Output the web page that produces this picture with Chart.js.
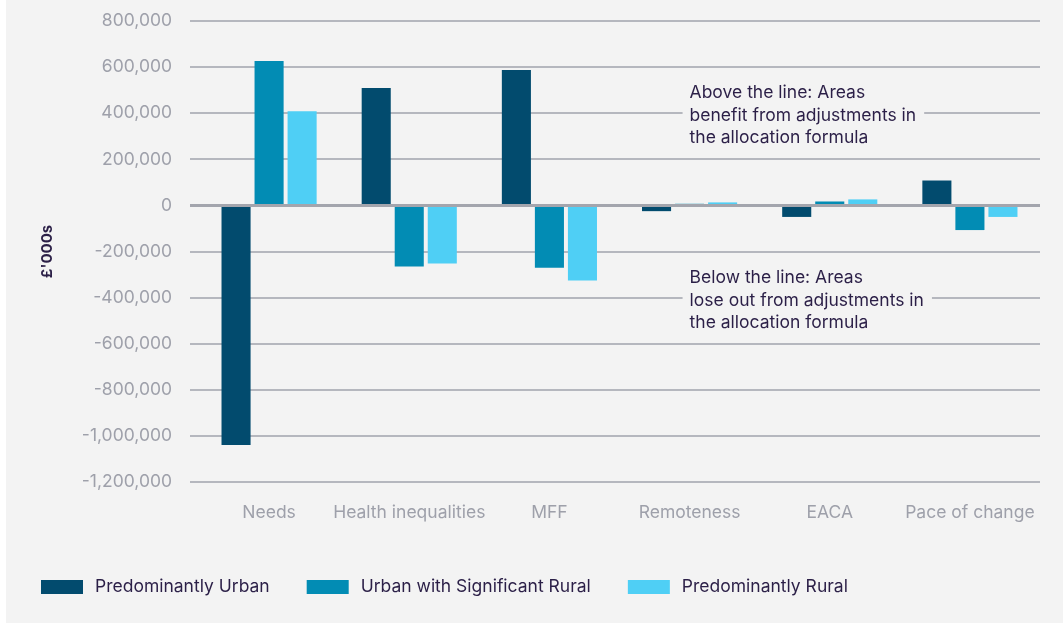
<!DOCTYPE html>
<html>
<head>
<meta charset="utf-8">
<script src="https://cdn.jsdelivr.net/npm/chart.js@4.4.1/dist/chart.umd.min.js"></script>
<style>
  html, body { margin: 0; padding: 0; background: #ffffff; }
  #wrap { position: absolute; left: 6px; top: 0; width: 1057px; height: 623px; background: #f3f3f3; }
</style>
</head>
<body>
<div id="wrap"><canvas id="myChart" width="1057" height="623"></canvas></div>
<script>
// categories and values (£'000s)
var categories = ['Needs', 'Health inequalities', 'MFF', 'Remoteness', 'EACA', 'Pace of change'];
var predominantlyUrban = [-1040000, 509000, 587000, -25000, -50000, 108000];
var urbanWithRural = [626000, -265000, -270000, 7000, 17000, -107000];
var predominantlyRural = [409000, -252000, -326000, 13000, 26000, -50000];
var seriesNames = ['Predominantly Urban', 'Urban with Significant Rural', 'Predominantly Rural'];
var seriesColours = ['#024b6e', '#028cb4', '#4fcff5'];
var aboveNote = ['Above the line: Areas', 'benefit from adjustments in', 'the allocation formula'];
var belowNote = ['Below the line: Areas', 'lose out from adjustments in', 'the allocation formula'];

var textColour = '#2b1f47';
var tickColour = '#9ea0aa';
var fontName = 'Inter, Lato, sans-serif';

// zero line drawn over the bars, notes and legend
var extras = {
    id: 'extras',
    afterDatasetsDraw: function(chart) {
        var ctx = chart.ctx;
        var x = chart.scales.x;
        var y = chart.scales.y;
        var area = chart.chartArea;

        ctx.save();
        var y0 = y.getPixelForValue(0);
        ctx.strokeStyle = '#a3a5ad';
        ctx.lineWidth = 3;
        ctx.beginPath();
        ctx.moveTo(area.left - 9, y0);
        ctx.lineTo(area.right, y0);
        ctx.stroke();

        // notes
        ctx.font = '17.5px ' + fontName;
        ctx.textBaseline = 'middle';
        ctx.textAlign = 'left';
        var left = x.getPixelForValue(3);
        function note(lines, value) {
            var mid = y.getPixelForValue(value);
            var w = 0;
            lines.forEach(function(l) { w = Math.max(w, ctx.measureText(l).width); });
            ctx.fillStyle = '#f3f3f3';
            ctx.fillRect(left - 7, mid - 34, w + 15, 68);
            ctx.fillStyle = textColour;
            lines.forEach(function(l, i) {
                ctx.fillText(l, left, mid + (i - 1) * 22.5);
            });
        }
        note(aboveNote, 391000);
        note(belowNote, -413000);

        // legend
        ctx.font = '17.5px ' + fontName;
        var lx = 35;
        var ly = 587;
        chart.data.datasets.forEach(function(ds) {
            ctx.fillStyle = ds.backgroundColor;
            ctx.fillRect(lx, ly - 7, 42, 14);
            ctx.fillStyle = textColour;
            ctx.fillText(ds.label, lx + 54, ly);
            lx += 54 + ctx.measureText(ds.label).width + 37;
        });
        ctx.restore();
    }
};

var datasets = [predominantlyUrban, urbanWithRural, predominantlyRural].map(function(vals, i) {
    return {
        label: seriesNames[i],
        data: vals,
        backgroundColor: seriesColours[i],
        categoryPercentage: 0.707,
        barPercentage: 0.88
    };
});

var ctx = document.getElementById('myChart').getContext('2d');
var chart = new Chart(ctx, {
    type: 'bar',
    data: { labels: categories, datasets: datasets },
    options: {
        responsive: false,
        animation: false,
        layout: { padding: { top: 21, right: 23, bottom: 80, left: 28 } },
        plugins: {
            legend: { display: false },
            tooltip: { enabled: false }
        },
        scales: {
            x: {
                grid: { display: false, drawTicks: false },
                border: { display: false },
                ticks: {
                    color: tickColour,
                    font: { family: fontName, size: 17.5 },
                    padding: 20,
                    maxRotation: 0,
                    minRotation: 0,
                    autoSkip: false
                }
            },
            y: {
                min: -1200000,
                max: 800000,
                afterFit: function(scale) {
                    scale.width = 165;
                    scale.paddingTop = 10;
                    scale.paddingBottom = 10;
                },
                border: { display: false },
                grid: { color: '#b5b7be', lineWidth: 2, tickLength: 9 },
                ticks: {
                    stepSize: 200000,
                    padding: 18,
                    color: tickColour,
                    font: { family: fontName, size: 17.5 },
                    callback: function(v) { return v.toLocaleString('en-GB'); }
                },
                title: {
                    display: true,
                    text: "£'000s",
                    color: textColour,
                    font: { family: fontName, size: 15, weight: 'bold' },
                    padding: { top: 4, bottom: 4 }
                }
            }
        }
    },
    plugins: [extras]
});
</script>
</body>
</html>
